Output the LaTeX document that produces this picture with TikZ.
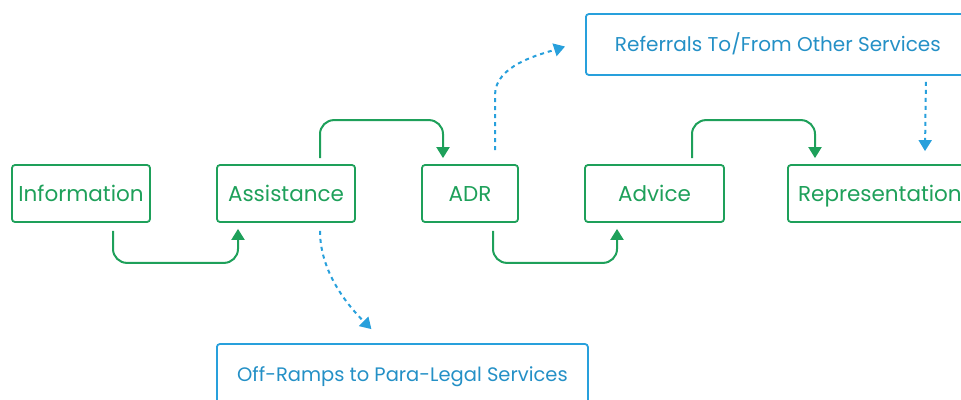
\documentclass[tikz,border=0pt]{standalone}
\usepackage{fontspec}
\setmainfont{Poppins}
\usetikzlibrary{arrows.meta,calc}
\definecolor{gr}{RGB}{30,160,90}
\definecolor{bl}{RGB}{40,160,220}
\begin{document}
\begin{tikzpicture}[x=1pt,y=-1pt,
  gbox/.style={draw=gr,line width=1.8pt,rounded corners=3pt,text=gr,font=\fontsize{21.5}{25}\selectfont,minimum height=57pt,inner sep=0pt,text height=20pt,text depth=5pt},
  bbox/.style={draw=bl,line width=1.8pt,rounded corners=3pt,text=bl!90!black,font=\fontsize{20}{24}\selectfont,minimum height=61pt,inner sep=0pt,text height=18.5pt,text depth=5.5pt},
  garrow/.style={draw=gr,line width=2pt,rounded corners=14pt,-{Triangle[width=13pt,length=11pt]}},
  barrow/.style={draw=bl,line width=2pt,dash pattern=on 4pt off 4pt,-{Triangle[width=13pt,length=11pt]}}]
\useasboundingbox (0,0) rectangle (961,399);
\clip (0,0) rectangle (961,399);
\node[gbox,minimum width=138pt] (info) at (81,193.5) {Information};
\node[gbox,minimum width=138pt] (assist) at (286,193.5) {Assistance};
\node[gbox,minimum width=96pt] (adr) at (470,193.5) {ADR};
\node[gbox,minimum width=139pt] (advice) at (654.5,193.5) {Advice};
\node[gbox,minimum width=184pt,anchor=west] (rep) at (787,193.5) {Representation};
\node[bbox,minimum width=384pt,anchor=west] (ref) at (585,44.5) {Referrals To/From Other Services};
\node[bbox,minimum width=371pt,anchor=west,font=\fontsize{19.5}{23}\selectfont] (off) at (216,374.5) {Off-Ramps to Para-Legal Services};
% green connectors
\draw[garrow] ([xshift=32pt,yshift=-8pt]info.south) -- ++(0,32) -| ([xshift=-48pt,yshift=-6pt]assist.south);
\draw[garrow] ([xshift=34pt,yshift=6pt]assist.north) -- ++(0,-38) -| ([xshift=-27pt,yshift=6pt]adr.north);
\draw[garrow] ([xshift=23pt,yshift=-8pt]adr.south) -- ++(0,32) -| ([xshift=-37.5pt,yshift=-6pt]advice.south);
\draw[garrow] ([xshift=37.5pt,yshift=6pt]advice.north) -- ++(0,-38) -| ([xshift=28pt,yshift=6pt]rep.north west);
% blue connectors
\coordinate (refin) at ([xshift=-20pt,yshift=-2pt]ref.west);
\draw[barrow] ([xshift=25pt,yshift=14pt]adr.north) -- ++(0,-55) .. controls +(0,-30) and +(-25,8) .. (refin);
\draw[barrow] ([xshift=148pt,yshift=-6pt]ref.south) -- ([xshift=138pt,yshift=13pt]rep.north west);
\coordinate (offin) at ([xshift=-31pt,yshift=14pt]off.north);
\draw[barrow] ([xshift=34pt,yshift=-8pt]assist.south) .. controls +(0,40) and +(-25,-25) .. (offin);
\end{tikzpicture}
\end{document}
